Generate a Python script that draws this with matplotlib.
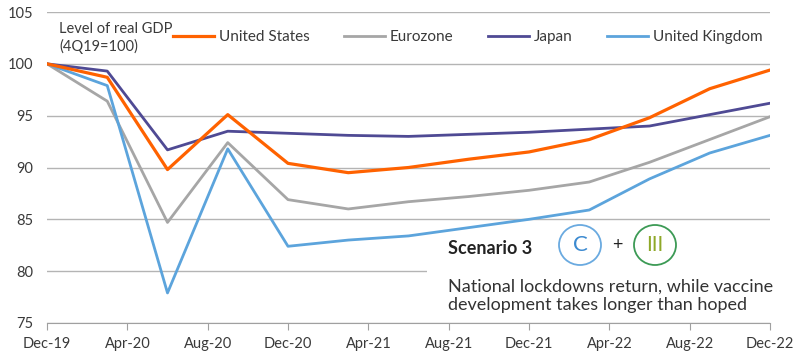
import numpy as np
import matplotlib.pyplot as plt
from matplotlib.patches import Rectangle, Ellipse

plt.rcParams['font.family'] = ['Lato', 'DejaVu Sans']

# kwartaaldata, maanden na Dec-19
months = [0, 3, 6, 9, 12, 15, 18, 21, 24, 27, 30, 33, 36]
us = [100, 98.7, 89.8, 95.1, 90.4, 89.5, 90.0, 90.8, 91.5, 92.7, 94.8, 97.6, 99.4]
eurozone = [100, 96.4, 84.7, 92.4, 86.9, 86.0, 86.7, 87.2, 87.8, 88.6, 90.5, 92.7, 94.9]
japan = [100, 99.3, 91.7, 93.5, 93.3, 93.1, 93.0, 93.2, 93.4, 93.7, 94.0, 95.1, 96.2]
uk = [100, 97.9, 77.9, 91.8, 82.4, 83.0, 83.4, 84.2, 85.0, 85.9, 88.9, 91.4, 93.1]

tick_months = [0, 4, 8, 12, 16, 20, 24, 28, 32, 36]
tick_labels = ['Dec-19', 'Apr-20', 'Aug-20', 'Dec-20', 'Apr-21', 'Aug-21',
               'Dec-21', 'Apr-22', 'Aug-22', 'Dec-22']

txt = '#3a3a3a'

fig = plt.figure(figsize=(8, 3.56), dpi=100)
ax = fig.add_axes([47/800, 1-323/356, (770-47)/800, (323-12)/356])

ax.plot(months, us, color='#ff6200', lw=2.3, label='United States', zorder=5)
ax.plot(months, eurozone, color='#a6a6a6', lw=2.0, label='Eurozone', zorder=3)
ax.plot(months, japan, color='#4f4a94', lw=2.0, label='Japan', zorder=4)
ax.plot(months, uk, color='#5ca4dc', lw=2.0, label='United Kingdom', zorder=3)

ax.set_xlim(0, 36)
ax.set_ylim(75, 105)
ax.set_yticks(range(75, 106, 5))
ax.set_xticks(tick_months)
ax.set_xticklabels(tick_labels)
ax.grid(axis='y', color='#b4b4b4', lw=1.0)
ax.set_axisbelow(True)
for s in ['top', 'right', 'left']:
    ax.spines[s].set_visible(False)
ax.spines['bottom'].set_color('#a0a0a0')
ax.tick_params(axis='y', length=0, pad=10, labelsize=10.5, labelcolor=txt)
ax.tick_params(axis='x', length=5, color='#a0a0a0', pad=5, labelsize=10.5, labelcolor=txt)

# wit vlak achter de scenario-tekst
ax.add_patch(Rectangle((18.9, 75.1), 17.5, 7.3, facecolor='white', edgecolor='none',
                       zorder=1, clip_on=False))

ax.text(0.6, 104.0, 'Level of real GDP\n(4Q19=100)', fontsize=10.5, color=txt,
        va='top', ha='left', linespacing=1.25)
fig.legend(loc='center left', bbox_to_anchor=(173/800, 1-37/356), ncol=4, frameon=False,
           fontsize=11, handlelength=2.7, handletextpad=0.3, columnspacing=2.25,
           labelcolor=txt, borderaxespad=0, borderpad=0)

# scenario blok
fig.text(448/800, 1-249/356, 'Scenario 3', fontsize=13, fontweight='bold', color='#222222',
         va='center', ha='left')
fig.patches.append(Ellipse((580/800, 1-245/356), 42/800, 40/356, transform=fig.transFigure,
                           fill=False, edgecolor='#6aaae0', lw=1.3))
fig.text(580/800, 1-245/356, 'C', fontsize=16, color='#3c8ad0', va='center', ha='center')
fig.text(617/800, 1-245/356, '+', fontsize=13, color='#222222', va='center', ha='center')
fig.patches.append(Ellipse((655/800, 1-245/356), 42/800, 40/356, transform=fig.transFigure,
                           fill=False, edgecolor='#3c9a55', lw=1.3))
fig.text(655/800, 1-245/356, 'III', fontsize=15, color='#8fa828', va='center', ha='center')
fig.text(448/800, 1-296/356, 'National lockdowns return, while vaccine\ndevelopment takes longer than hoped',
         fontsize=13, color='#333333', va='center', ha='left', linespacing=1.2)

plt.savefig('out.png', dpi=100)
